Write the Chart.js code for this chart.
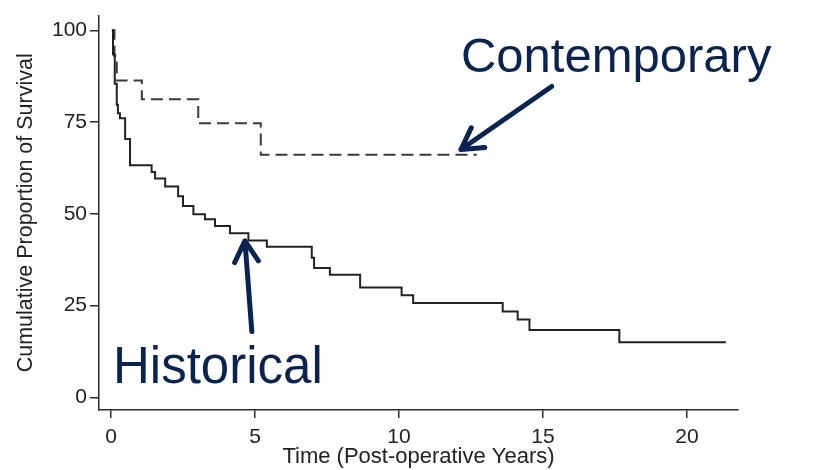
<!DOCTYPE html>
<html>
<head>
<meta charset="utf-8">
<title>Cumulative Proportion of Survival</title>
<script src="https://cdn.jsdelivr.net/npm/chart.js@4/dist/chart.umd.min.js"></script>
<style>
  html, body { margin: 0; padding: 0; background: #fff; }
  #survival-chart { display: block; }
</style>
</head>
<body>
<canvas id="survival-chart" width="815" height="470"></canvas>
<script>
// Kaplan-Meier steps: time of each event (post-operative years) and survival (%) after it
const historicalYears = [0.03, 0.07, 0.13, 0.2, 0.24, 0.31, 0.49, 0.66, 1.41, 1.53, 1.88, 2.33, 2.5,
    2.86, 3.26, 3.61, 4.13, 4.77, 5.41, 6.97, 7.05, 7.6, 8.65, 10.09, 10.49, 13.6, 14.12, 14.53, 17.65, 21.35];
const historicalSurvival = [100, 93.4, 85.4, 79.7, 77.4, 76, 70.4, 63.2, 61.4, 59.6, 57.4, 54.8, 52.1,
    49.9, 48.5, 46.7, 44.7, 42.7, 41.0, 38.0, 35.2, 33.4, 29.9, 27.8, 25.7, 23.4, 21.2, 18.3, 15.0, 15.0];

const contemporaryYears = [0.03, 0.12, 0.2, 1.07, 3.03, 5.2, 12.7];
const contemporarySurvival = [100, 93, 86.3, 81.2, 74.7, 66.1, 66.1];

const xTickValues = [0, 5, 10, 15, 20];
const yTickValues = [0, 25, 50, 75, 100];

const AXIS_COLOR = '#2b2b2b';
const NAVY = '#0b2350';
const FONT = '"Liberation Sans", Arial, Helvetica, sans-serif';

const toPoints = (xs, ys) => xs.map((t, i) => ({ x: t, y: ys[i] }));

// Callout labels with arrows, placed in data units
const callouts = [
    { text: 'Contemporary', size: 49, at: [12.15, 88.5], tail: [15.3, 84.7], tip: [12.15, 67.5] },
    { text: 'Historical', size: 51, at: [0.07, 4.0], tail: [4.89, 17.9], tip: [4.65, 42.6] }
];

const calloutPlugin = {
    id: 'callouts',
    afterDatasetsDraw(chart) {
        const { ctx, scales: { x, y } } = chart;
        ctx.save();
        ctx.fillStyle = NAVY;
        ctx.strokeStyle = NAVY;
        ctx.lineWidth = 5;
        ctx.lineCap = 'round';
        ctx.lineJoin = 'round';
        ctx.textBaseline = 'alphabetic';
        ctx.textAlign = 'left';

        callouts.forEach(c => {
            ctx.font = `${c.size}px ${FONT}`;
            ctx.fillText(c.text, x.getPixelForValue(c.at[0]), y.getPixelForValue(c.at[1]));

            const x0 = x.getPixelForValue(c.tail[0]), y0 = y.getPixelForValue(c.tail[1]);
            const x1 = x.getPixelForValue(c.tip[0]), y1 = y.getPixelForValue(c.tip[1]);
            const angle = Math.atan2(y0 - y1, x0 - x1);
            const head = 24, spread = 0.52;

            ctx.beginPath();
            ctx.moveTo(x0, y0);
            ctx.lineTo(x1, y1);
            ctx.moveTo(x1 + head * Math.cos(angle - spread), y1 + head * Math.sin(angle - spread));
            ctx.lineTo(x1, y1);
            ctx.lineTo(x1 + head * Math.cos(angle + spread), y1 + head * Math.sin(angle + spread));
            ctx.stroke();
        });
        ctx.restore();
    }
};

const fixedTicks = values => scale => {
    scale.ticks = values.map(v => ({ value: v }));
};

const ctx = document.getElementById('survival-chart').getContext('2d');
new Chart(ctx, {
    type: 'line',
    data: {
        datasets: [
            {
                label: 'Historical',
                data: toPoints(historicalYears, historicalSurvival),
                stepped: true,
                borderColor: '#222',
                borderWidth: 2,
                pointRadius: 0,
                fill: false
            },
            {
                label: 'Contemporary',
                data: toPoints(contemporaryYears, contemporarySurvival),
                stepped: true,
                borderColor: '#3a3a3a',
                borderWidth: 2,
                borderDash: [12, 6],
                pointRadius: 0,
                fill: false
            }
        ]
    },
    options: {
        responsive: false,
        animation: false,
        layout: { padding: { top: 7, right: 77, bottom: 0, left: 0 } },
        plugins: {
            legend: { display: false },
            tooltip: { enabled: false }
        },
        scales: {
            x: {
                type: 'linear',
                min: -0.417,
                max: 21.77,
                afterBuildTicks: fixedTicks(xTickValues),
                afterFit: scale => { scale.height = 60; },
                grid: { display: true, drawOnChartArea: false, drawTicks: true, tickLength: 8, color: AXIS_COLOR, lineWidth: 1.5 },
                border: { display: true, color: AXIS_COLOR, width: 1.5 },
                ticks: { color: '#222', padding: 7, maxRotation: 0, font: { family: FONT, size: 21 } },
                title: {
                    display: true,
                    text: 'Time (Post-operative Years)',
                    color: '#222',
                    padding: { top: 0, bottom: 0 },
                    font: { family: FONT, size: 22 }
                }
            },
            y: {
                type: 'linear',
                min: -3.47,
                max: 104,
                afterBuildTicks: fixedTicks(yTickValues),
                afterFit: scale => { scale.width = 99; },
                grid: { display: true, drawOnChartArea: false, drawTicks: true, tickLength: 9, color: AXIS_COLOR, lineWidth: 1.5 },
                border: { display: true, color: AXIS_COLOR, width: 1.5 },
                ticks: { color: '#222', padding: 3, font: { family: FONT, size: 21 } },
                title: {
                    display: true,
                    text: 'Cumulative Proportion of Survival',
                    color: '#222',
                    padding: { top: 13, bottom: 0 },
                    font: { family: FONT, size: 21.5 }
                }
            }
        }
    },
    plugins: [calloutPlugin]
});
</script>
</body>
</html>
